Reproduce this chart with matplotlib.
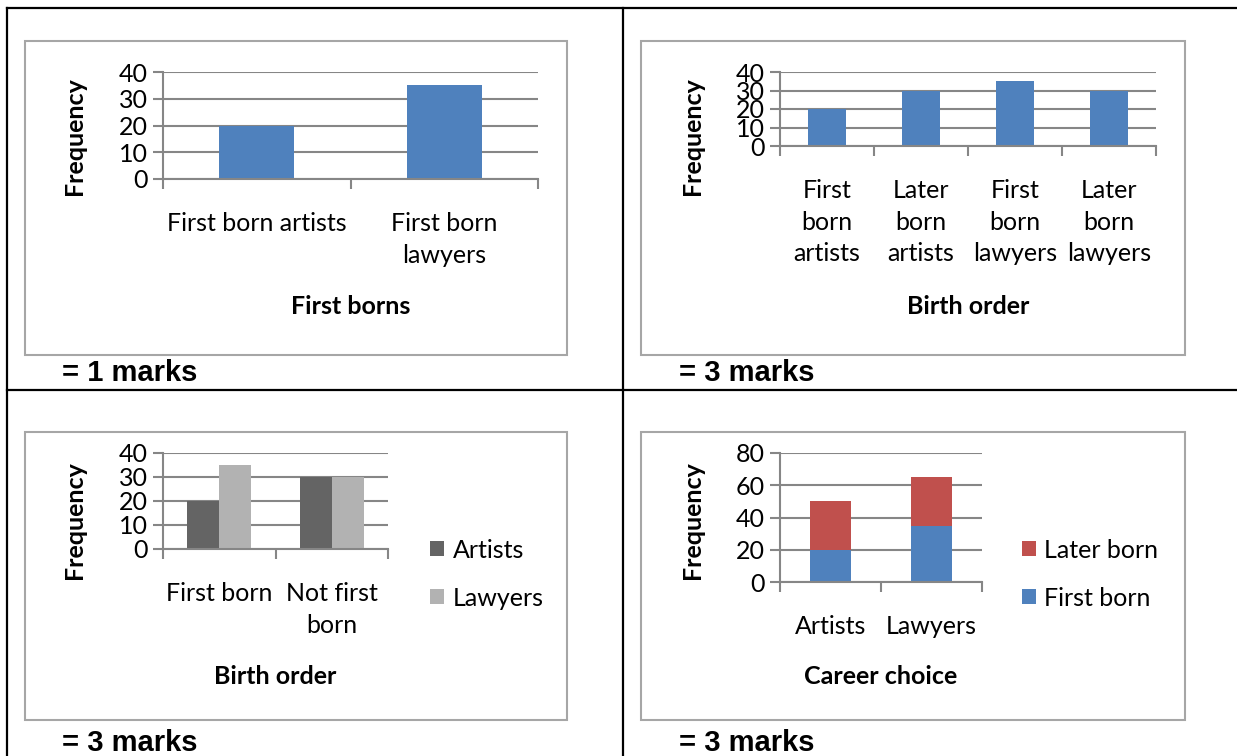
import matplotlib.pyplot as plt
import numpy as np
from matplotlib.patches import Rectangle
from matplotlib.lines import Line2D

# chart data
first_cats = ['First born artists', 'First born\nlawyers']
first_vals = [20, 35]

order_cats = ['First\nborn\nartists', 'Later\nborn\nartists', 'First\nborn\nlawyers', 'Later\nborn\nlawyers']
order_vals = [20, 30, 35, 30]

group_cats = ['First born', 'Not first\nborn']
artists_vals = [20, 30]
lawyers_vals = [35, 30]

career_cats = ['Artists', 'Lawyers']
first_born_vals = [20, 35]
later_born_vals = [30, 30]

marks = ['= 1 marks', '= 3 marks', '= 3 marks', '= 3 marks']

W, H = 1237, 756
FS = 18
GRID = '#868686'
BLUE = '#4f81bd'
RED = '#c0504d'
DARK = '#646464'
LIGHT = '#b2b2b2'

plt.rcParams['font.family'] = ['Lato', 'DejaVu Sans']

fig = plt.figure(figsize=(W / 100, H / 100), dpi=100)


def fx(x):
    return x / W


def fy(y):
    return 1 - y / H


def setup(x0, y0, x1, y1, cats, ymax, ystep):
    ax = fig.add_axes([fx(x0), fy(y1), fx(x1) - fx(x0), fy(y0) - fy(y1)])
    n = len(cats)
    ax.set_xlim(0, n)
    ax.set_ylim(0, ymax)
    ax.set_yticks(np.arange(0, ymax + 1, ystep))
    ax.yaxis.grid(True, color=GRID, lw=1.5)
    ax.set_axisbelow(True)
    # ticks between categories, labels in the middle
    ax.set_xticks(np.arange(n + 1))
    ax.set_xticklabels([])
    ax.set_xticks(np.arange(n) + 0.5, cats, minor=True)
    ax.tick_params(axis='x', which='major', length=7, width=1.5, color=GRID, direction='out')
    ax.tick_params(axis='x', which='minor', length=0, pad=24, labelsize=FS)
    ax.tick_params(axis='y', length=7, width=1.5, color=GRID, labelsize=FS, pad=4)
    for lab in ax.get_xticklabels(minor=True):
        lab.set_linespacing(1.45)
    for s in ['top', 'right']:
        ax.spines[s].set_visible(False)
    for s in ['left', 'bottom']:
        ax.spines[s].set_color(GRID)
        ax.spines[s].set_linewidth(1.5)
    return ax


def box(x0, y0, x1, y1):
    fig.add_artist(Rectangle((fx(x0), fy(y1)), fx(x1) - fx(x0), fy(y0) - fy(y1),
                             transform=fig.transFigure, fill=False, ec='#a6a6a6', lw=1.5))


def labels(ax_x0, ax_x1, xlab, xlab_y, freq_x, freq_y):
    fig.text(fx((ax_x0 + ax_x1) / 2), fy(xlab_y), xlab, ha='center', va='center',
             fontsize=FS, fontweight='bold')
    fig.text(fx(freq_x), fy(freq_y), 'Frequency', ha='center', va='center',
             rotation=90, fontsize=FS, fontweight='bold')


def legend(ax, handles, names, x, y):
    ax.legend(handles, names, loc='center left', bbox_to_anchor=(fx(x), fy(y)),
              bbox_transform=fig.transFigure, frameon=False, fontsize=FS, handlelength=0.55,
              handleheight=0.55, handletextpad=0.35, labelspacing=1.0, borderpad=0, borderaxespad=0)


# table lines
for xs, ys in [([7, 1237], [8, 8]), ([7, 7], [8, 756]), ([623, 623], [8, 756]), ([7, 1237], [390, 390])]:
    fig.add_artist(Line2D([fx(v) for v in xs], [fy(v) for v in ys], color='black', lw=1.6,
                          transform=fig.transFigure))

# chart boxes
box(25, 41, 567, 355)
box(641, 41, 1185, 355)
box(25, 432, 567, 720)
box(641, 432, 1185, 720)

# top left: first borns
ax = setup(163, 72, 538, 179, first_cats, 40, 10)
x = np.arange(len(first_cats)) + 0.5
ax.bar(x, first_vals, 0.4, color=BLUE)
labels(163, 538, 'First borns', 306, 75, 136)

# top right: birth order
ax = setup(780, 72, 1156, 146, order_cats, 40, 10)
x = np.arange(len(order_cats)) + 0.5
ax.bar(x, order_vals, 0.4, color=BLUE)
labels(780, 1156, 'Birth order', 306, 692, 136)

# bottom left: grouped
ax = setup(163, 453, 388, 549, group_cats, 40, 10)
x = np.arange(len(group_cats)) + 0.5
w = 0.2857
b1 = ax.bar(x - w / 2, artists_vals, w, color=DARK)
b2 = ax.bar(x + w / 2, lawyers_vals, w, color=LIGHT)
labels(163, 388, 'Birth order', 677, 75, 520)
legend(ax, [b1, b2], ['Artists', 'Lawyers'], 430, 574)

# bottom right: stacked
ax = setup(780, 453, 982, 582, career_cats, 80, 20)
x = np.arange(len(career_cats)) + 0.5
s1 = ax.bar(x, first_born_vals, 0.4, color=BLUE)
s2 = ax.bar(x, later_born_vals, 0.4, bottom=first_born_vals, color=RED)
labels(780, 982, 'Career choice', 677, 692, 520)
legend(ax, [s2, s1], ['Later born', 'First born'], 1022, 574)

# marks text under each chart
for (mx, my), txt in zip([(62, 373), (679, 373), (62, 743), (679, 743)], marks):
    fig.text(fx(mx), fy(my), txt, ha='left', va='center', fontsize=21,
             fontfamily='Liberation Sans', fontweight='bold')

fig.savefig('out.png', dpi=100)
